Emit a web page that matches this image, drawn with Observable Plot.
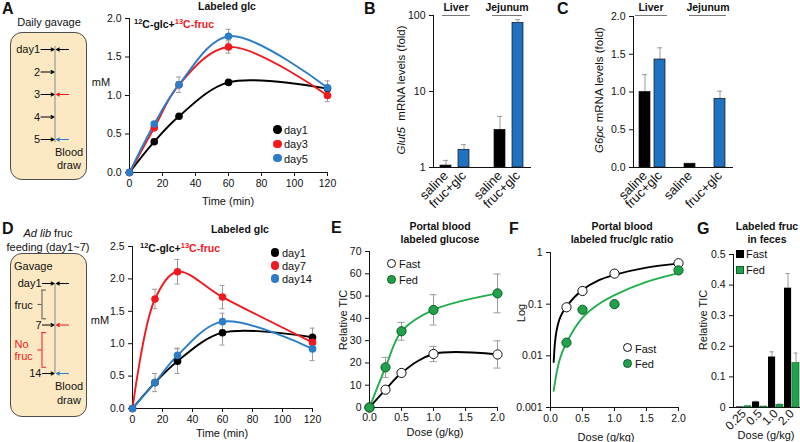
<!DOCTYPE html>
<html><head><meta charset="utf-8">
<script src="https://cdn.jsdelivr.net/npm/d3@7"></script>
<script src="https://cdn.jsdelivr.net/npm/@observablehq/plot@0.6"></script>
<style>
body{margin:0;background:#fff;}
#fig{position:relative;width:800px;height:442px;overflow:hidden;background:#fff;font-family:"Liberation Sans",Arial,sans-serif;color:#111;}
#fig svg{position:absolute;overflow:visible;}
.t{position:absolute;white-space:nowrap;line-height:1;}
.box{position:absolute;background:#fce9c3;border:1px solid #4d4d4d;border-radius:12px;box-sizing:border-box;}
</style></head><body><div id="fig"></div>
<script>
// ---------- DATA ----------
// Panel A: labeled glc, daily gavage
const timeMin = [0, 15, 30, 60, 120];
const timeTicks = [0, 20, 40, 60, 80, 100, 120];
const aDay1 = [0, 0.40, 0.73, 1.17, 1.09];
const aDay1Err = [0, 0.02, 0.02, 0.02, 0.03];
const aDay3 = [0, 0.58, 1.14, 1.63, 1.00];
const aDay3Err = [0, 0.03, 0.04, 0.08, 0.08];
const aDay5 = [0, 0.63, 1.14, 1.77, 1.10];
const aDay5Err = [0, 0.03, 0.10, 0.09, 0.09];
const aYTicks = [0, 0.5, 1.0, 1.5, 2.0];
const aSeries = ["day1", "day3", "day5"];
// Panel A schematic
const gavADays = [1, 2, 3, 4, 5];
const gavALabels = ["day1", "2", "3", "4", "5"];
const drawADays = [1, 3, 5];

// Panel B: Glut5 mRNA (log)
const bSlots = ["Ls", "Lf", "gap", "Js", "Jf"];
const bSlotLabels = ["saline", "fruc+glc", "", "saline", "fruc+glc"];
const glut5Slot = ["Ls", "Lf", "Js", "Jf"];
const glut5Treat = ["saline", "fruc+glc", "saline", "fruc+glc"];
const glut5Val = [1.06, 1.71, 3.13, 80];
const glut5Err = [0.18, 0.29, 1.57, 8];
const bYTicks = [1, 10, 100];

// Panel C: G6pc mRNA
const cSlots = ["Ls", "Lf", "gap1", "Js", "gap2", "Jf"];
const cSlotLabels = ["saline", "fruc+glc", "", "saline", "", "fruc+glc"];
const g6pcSlot = ["Ls", "Lf", "Js", "Jf"];
const g6pcTreat = ["saline", "fruc+glc", "saline", "fruc+glc"];
const g6pcVal = [1.0, 1.43, 0.05, 0.91];
const g6pcErr = [0.23, 0.155, 0, 0.10];
const cYTicks = [0, 0.5, 1.0, 1.5, 2.0];

// Panel D: ad lib feeding
const dDay1 = [0, 0.40, 0.73, 1.17, 1.10];
const dDay1Err = [0, 0.03, 0.19, 0.19, 0.14];
const dDay7 = [0, 1.69, 2.11, 1.72, 1.02];
const dDay7Err = [0, 0.15, 0.19, 0.18, 0.10];
const dDay14 = [0, 0.40, 0.82, 1.34, 0.92];
const dDay14Err = [0, 0.14, 0.11, 0.13, 0.18];
const dYTicks = [0, 0.5, 1.0, 1.5, 2.0, 2.5];
const dSeries = ["day1", "day7", "day14"];
const gavDDays = [1, 7, 14];
const gavDLabels = ["day1", "7", "14"];
const bracketFrom = [1.95, 8.1];
const bracketTo = [6.1, 13.1];
const bracketText = ["fruc", "No", "fruc"];
const bracketTextDay = [4.2, 9.8, 11.6];

// Panel E: portal blood labeled glucose
const doseE = [0, 0.25, 0.5, 1, 2];
const eFast = [0, 8, 15.5, 24, 23.8];
const eFastErr = [0, 1, 1, 3.4, 6.1];
const eFed = [0, 18, 34.2, 43.8, 51.2];
const eFedErr = [0, 4.5, 4.0, 6.8, 8.7];
const eYTicks = [0, 10, 20, 30, 40, 50, 60, 70];
const doseTicks = [0, 0.5, 1.0, 1.5, 2.0];

// Panel F: fruc/glc ratio (log)
const doseF = [0.25, 0.5, 1, 2];
const fFast = [0.087, 0.18, 0.39, 0.62];
const fFed = [0.018, 0.078, 0.10, 0.45];
const fitDoseFast = [0.05, 0.07, 0.1, 0.15, 0.25, 0.5, 0.75, 1, 1.5, 2];
const fitFast = [0.0076, 0.018, 0.033, 0.055, 0.09, 0.19, 0.29, 0.37, 0.51, 0.61];
const fitDoseFed = [0.05, 0.1, 0.15, 0.25, 0.5, 0.75, 1, 1.5, 2];
const fitFed = [0.0021, 0.005, 0.009, 0.018, 0.055, 0.10, 0.15, 0.27, 0.40];
const fYTicks = [0.001, 0.01, 0.1, 1];

// Panel G: labeled fruc in feces
const doseG = ["0.25", "0.5", "1.0", "2.0"];
const gFast = [0.002, 0.018, 0.165, 0.39];
const gFastErr = [0, 0.002, 0.017, 0.048];
const gFed = [0.004, 0.003, 0.009, 0.145];
const gFedErr = [0, 0, 0.002, 0.033];
const gYTicks = [0, 0.1, 0.2, 0.3, 0.4, 0.5];

// ---------- STYLE ----------
const RED = "#f2191e", BLUE = "#2b7dc8", BARBLUE = "#1f72c0";
const GREENLINE = "#1fae4b", GREEN = "#22a04a", GREENDARK = "#0e5f2b";
const GREY = "#9a9a9a";
const baseStyle = {fontFamily: "'Liberation Sans', Arial, sans-serif", fontSize: "10.5px", color: "#111", background: "transparent"};

const fig = document.getElementById("fig");
function place(svg, left, top) { svg.style.left = left + "px"; svg.style.top = top + "px"; fig.appendChild(svg); }
function xTickFont(svg, size) {
  svg.querySelectorAll('[aria-label^="x-axis"]').forEach(g => {
    g.setAttribute("font-size", size); g.style.fontSize = size + "px";
    g.querySelectorAll("text").forEach(t => { t.setAttribute("font-size", size); t.style.fontSize = size + "px"; });
  });
}
function T(html, x, y, o = {}) {
  const d = document.createElement("div");
  d.className = "t"; d.innerHTML = html;
  const ax = o.anchor === "start" ? "0" : o.anchor === "end" ? "-100%" : "-50%";
  d.style.left = x + "px"; d.style.top = y + "px";
  d.style.fontSize = (o.size || 11) + "px";
  if (o.bold) d.style.fontWeight = "bold";
  if (o.color) d.style.color = o.color;
  d.style.transform = `translate(${ax},-50%)` + (o.rotate ? ` rotate(${o.rotate}deg)` : "");
  fig.appendChild(d);
}
function Circ(x, y, dia, fill, stroke) {
  const d = document.createElement("div");
  Object.assign(d.style, {position: "absolute", left: (x - dia / 2) + "px", top: (y - dia / 2) + "px", width: dia + "px", height: dia + "px", borderRadius: "50%", background: fill, boxSizing: "border-box", border: stroke ? `1px solid ${stroke}` : "none"});
  fig.appendChild(d);
}
function Sq(x, y, s, fill, stroke) {
  const d = document.createElement("div");
  Object.assign(d.style, {position: "absolute", left: x + "px", top: y + "px", width: s + "px", height: s + "px", background: fill, boxSizing: "border-box", border: `1px solid ${stroke}`});
  fig.appendChild(d);
}
function HLine(x1, x2, y) {
  const d = document.createElement("div");
  Object.assign(d.style, {position: "absolute", left: x1 + "px", top: y + "px", width: (x2 - x1) + "px", height: "1px", background: "#777"});
  fig.appendChild(d);
}
function Box(x, y, w, h) {
  const d = document.createElement("div"); d.className = "box";
  Object.assign(d.style, {left: x + "px", top: y + "px", width: w + "px", height: h + "px"});
  fig.appendChild(d);
}
function tidy(name, xs, ys, es) { return xs.map((x, i) => ({s: name, x, y: ys[i], err: es ? es[i] : 0})); }
function errMarks(data, half, color = GREY) {
  const e = data.filter(d => d.err > 0);
  return [
    Plot.ruleX(e, {x: "x", y1: d => d.y - d.err, y2: d => d.y + d.err, stroke: color, strokeWidth: 1}),
    Plot.ruleY(e, {y: d => d.y + d.err, x1: "x", x2: "x", insetLeft: -half, insetRight: -half, stroke: color}),
    Plot.ruleY(e, {y: d => d.y - d.err, x1: "x", x2: "x", insetLeft: -half, insetRight: -half, stroke: color})
  ];
}
const formula = `<span style="font-size:7.5px;vertical-align:4px">12</span>C-glc+<span style="color:${RED}"><span style="font-size:7.5px;vertical-align:4px">13</span>C-fruc</span>`;

// ---------- PANEL A ----------
Box(10, 32, 77, 148);
const schemA = Plot.plot({
  width: 100, height: 215, margin: 0, style: baseStyle,
  x: {domain: [0, 100], range: [0, 100], axis: null},
  y: {domain: [1, 5], range: [49, 139], axis: null},
  color: {type: "identity"},
  marks: [
    Plot.ruleX([54.5], {y1: 1, y2: 5, stroke: "#999", strokeWidth: 1.2, insetTop: -3, insetBottom: -3}),
    Plot.text(gavADays, {x: 39.5, y: d => d, text: (d, i) => gavALabels[i], textAnchor: "end", fontSize: 11}),
    Plot.arrow(gavADays, {x1: 40.5, x2: 53.5, y1: d => d, y2: d => d, stroke: "#000", strokeWidth: 1.1, headLength: 4.5, headAngle: 55}),
    Plot.arrow(drawADays, {x1: 68, x2: 56, y1: d => d, y2: d => d, stroke: (d, i) => ["#000", RED, BLUE][i], strokeWidth: 1.1, headLength: 4.5, headAngle: 55})
  ]
});
place(schemA, 0, 0);

const aData = [...tidy("day1", timeMin, aDay1, aDay1Err), ...tidy("day3", timeMin, aDay3, aDay3Err), ...tidy("day5", timeMin, aDay5, aDay5Err)];
const chartA = Plot.plot({
  width: 370, height: 215, marginLeft: 129, marginRight: 43, marginTop: 18, marginBottom: 43, style: baseStyle,
  x: {domain: [0, 120], ticks: timeTicks, tickSize: 4, tickPadding: 3, line: true, label: null},
  y: {domain: [0, 2], ticks: aYTicks, tickFormat: d3.format(".1f"), tickSize: 4, tickPadding: 4, line: true, label: null},
  color: {domain: aSeries, range: ["#000", RED, BLUE]},
  marks: [
    Plot.line(aData, {x: "x", y: "y", stroke: "s", curve: "catmull-rom", strokeWidth: 1.9}),
    ...errMarks(aData, 2.5),
    Plot.dot(aData, {x: "x", y: "y", fill: "s", r: 3.8})
  ]
});
place(chartA, 0, 0);

// ---------- PANEL B ----------
const bData = glut5Slot.map((s, i) => ({slot: s, treat: glut5Treat[i], v: glut5Val[i], e: glut5Err[i]}));
const chartB = Plot.plot({
  width: 200, height: 215, marginLeft: 73, marginRight: 30, marginTop: 15, marginBottom: 48, style: baseStyle,
  x: {domain: bSlots, padding: 0.38, tickSize: 0, tickPadding: 6, tickRotate: -45, tickFormat: d => bSlotLabels[bSlots.indexOf(d)], line: true, label: null},
  y: {type: "log", domain: [1, 100], ticks: bYTicks, tickFormat: d => String(d), tickSize: 4, tickPadding: 4, line: true, label: null},
  color: {domain: ["saline", "fruc+glc"], range: ["#000", BARBLUE]},
  marks: [
    Plot.ruleX(bData, {x: "slot", y1: "v", y2: d => d.v + d.e, stroke: GREY}),
    Plot.tickY(bData, {x: "slot", y: d => d.v + d.e, stroke: GREY, insetLeft: 3, insetRight: 3}),
    Plot.barY(bData, {x: "slot", y1: 1, y2: "v", fill: "treat", stroke: "#111", strokeWidth: 0.7})
  ]
});
xTickFont(chartB, 13);
place(chartB, 360, 0);

// ---------- PANEL C ----------
const cData = g6pcSlot.map((s, i) => ({slot: s, treat: g6pcTreat[i], v: g6pcVal[i], e: g6pcErr[i]}));
const chartC = Plot.plot({
  width: 200, height: 215, marginLeft: 73, marginRight: 28, marginTop: 16, marginBottom: 48, style: baseStyle,
  x: {domain: cSlots, padding: 0.25, tickSize: 0, tickPadding: 6, tickRotate: -45, tickFormat: d => cSlotLabels[cSlots.indexOf(d)], line: true, label: null},
  y: {domain: [0, 2], ticks: cYTicks, tickFormat: d3.format(".1f"), tickSize: 4, tickPadding: 4, line: true, label: null},
  color: {domain: ["saline", "fruc+glc"], range: ["#000", BARBLUE]},
  marks: [
    Plot.ruleX(cData.filter(d => d.e > 0), {x: "slot", y1: "v", y2: d => d.v + d.e, stroke: GREY}),
    Plot.tickY(cData.filter(d => d.e > 0), {x: "slot", y: d => d.v + d.e, stroke: GREY, insetLeft: 3, insetRight: 3}),
    Plot.barY(cData, {x: "slot", y1: 0, y2: "v", fill: "treat", stroke: "#111", strokeWidth: 0.7})
  ]
});
xTickFont(chartC, 13);
place(chartC, 560, 0);

// ---------- PANEL D ----------
Box(10, 253, 77, 164);
const gavD = gavDDays.map((n, i) => ({n, label: gavDLabels[i], color: ["#000", RED, BLUE][i]}));
const brackets = bracketFrom.map((f, i) => ({from: f, to: bracketTo[i], color: ["#555", RED][i]}));
const bTexts = bracketText.map((t, i) => ({t, n: bracketTextDay[i], color: i === 0 ? "#111" : RED}));
const schemD = Plot.plot({
  width: 100, height: 222, margin: 0, style: baseStyle,
  x: {domain: [0, 100], range: [0, 100], axis: null},
  y: {domain: [1, 14], range: [63, 153], axis: null},
  color: {type: "identity"},
  marks: [
    Plot.ruleX([54.5], {y1: 1, y2: 14, stroke: "#999", strokeWidth: 1.2}),
    Plot.text(gavD, {x: 41, y: "n", text: "label", textAnchor: "end", fontSize: 11}),
    Plot.arrow(gavD, {x1: 42, x2: 53.5, y1: "n", y2: "n", stroke: "#000", strokeWidth: 1.1, headLength: 4.5, headAngle: 55}),
    Plot.arrow(gavD, {x1: 68, x2: 56, y1: "n", y2: "n", stroke: "color", strokeWidth: 1.1, headLength: 4.5, headAngle: 55}),
    Plot.ruleX(brackets, {x: 41.5, y1: "from", y2: "to", stroke: "color"}),
    Plot.ruleY(brackets, {y: "from", x1: 41.5, x2: 46, stroke: "color"}),
    Plot.ruleY(brackets, {y: "to", x1: 41.5, x2: 46, stroke: "color"}),
    Plot.ruleY(brackets, {y: d => (d.from + d.to) / 2, x1: 37.5, x2: 41.5, stroke: "color"}),
    Plot.text(bTexts, {x: 14, y: "n", text: "t", fill: "color", textAnchor: "start", fontSize: 11})
  ]
});
place(schemD, 0, 220);

const dData = [...tidy("day1", timeMin, dDay1, dDay1Err), ...tidy("day7", timeMin, dDay7, dDay7Err), ...tidy("day14", timeMin, dDay14, dDay14Err)];
const chartD = Plot.plot({
  width: 370, height: 222, marginLeft: 132, marginRight: 58, marginTop: 26, marginBottom: 34, style: baseStyle,
  x: {domain: [0, 120], ticks: timeTicks, tickSize: 4, tickPadding: 3, line: true, label: null},
  y: {domain: [0, 2.5], ticks: dYTicks, tickFormat: d3.format(".1f"), tickSize: 4, tickPadding: 4, line: true, label: null},
  color: {domain: dSeries, range: ["#000", RED, BLUE]},
  marks: [
    Plot.line(dData, {x: "x", y: "y", stroke: "s", curve: "catmull-rom", strokeWidth: 1.9}),
    ...errMarks(dData, 2.5),
    Plot.dot(dData, {x: "x", y: "y", fill: "s", r: 3.8})
  ]
});
place(chartD, 0, 220);

// ---------- PANEL E ----------
const eData = [...tidy("Fast", doseE, eFast, eFastErr), ...tidy("Fed", doseE, eFed, eFedErr)];
const chartE = Plot.plot({
  width: 210, height: 222, marginLeft: 69, marginRight: 13, marginTop: 31, marginBottom: 35, style: baseStyle,
  x: {domain: [0, 2], ticks: doseTicks, tickFormat: d3.format(".1f"), tickSize: 4, tickPadding: 2, line: true, label: null},
  y: {domain: [0, 70], ticks: eYTicks, tickSize: 4, tickPadding: 4, line: true, label: null},
  marks: [
    Plot.line(eData, {x: "x", y: "y", z: "s", stroke: d => d.s === "Fed" ? GREENLINE : "#000", curve: "catmull-rom", strokeWidth: 1.9}),
    ...errMarks(eData, 3.5),
    Plot.dot(eData, {x: "x", y: "y", fill: d => d.s === "Fed" ? GREEN : "#fff", stroke: d => d.s === "Fed" ? GREENDARK : "#111", r: 4.6, strokeWidth: 1})
  ]
});
place(chartE, 300, 220);

// ---------- PANEL F ----------
const fPts = [...tidy("Fast", doseF, fFast), ...tidy("Fed", doseF, fFed)];
const fFit = [...tidy("Fast", fitDoseFast, fitFast), ...tidy("Fed", fitDoseFed, fitFed)];
const chartF = Plot.plot({
  width: 200, height: 222, marginLeft: 50, marginRight: 22, marginTop: 32, marginBottom: 35, style: baseStyle,
  x: {domain: [0, 2], ticks: doseTicks, tickFormat: d3.format(".1f"), tickSize: 4, tickPadding: 3, line: true, label: null},
  y: {type: "log", domain: [0.001, 1], ticks: fYTicks, tickFormat: d => String(d), tickSize: 4, tickPadding: 4, line: true, label: null},
  marks: [
    Plot.line(fFit, {x: "x", y: "y", z: "s", stroke: d => d.s === "Fed" ? GREENLINE : "#000", curve: "catmull-rom", strokeWidth: 1.9}),
    Plot.dot(fPts, {x: "x", y: "y", fill: d => d.s === "Fed" ? GREEN : "#fff", stroke: d => d.s === "Fed" ? GREENDARK : "#111", r: 4.6, strokeWidth: 1})
  ]
});
place(chartF, 500, 220);

// ---------- PANEL G ----------
const gData = doseG.map((d, i) => ({dose: d, fast: gFast[i], fastErr: gFastErr[i], fed: gFed[i], fedErr: gFedErr[i]}));
const chartG = Plot.plot({
  width: 112, height: 222, marginLeft: 43, marginRight: 0, marginTop: 34, marginBottom: 35, style: baseStyle,
  x: {domain: doseG, padding: 0.075, tickSize: 0, tickPadding: 4, tickRotate: -45, line: true, label: null},
  y: {domain: [0, 0.5], ticks: gYTicks, tickFormat: d => d === 0 ? "0" : d.toFixed(1), tickSize: 4, tickPadding: 4, line: true, label: null},
  marks: [
    Plot.ruleX(gData.filter(d => d.fastErr > 0), {x: "dose", y1: "fast", y2: d => d.fast + d.fastErr, dx: -4, stroke: GREY}),
    Plot.ruleX(gData.filter(d => d.fedErr > 0), {x: "dose", y1: "fed", y2: d => d.fed + d.fedErr, dx: 4, stroke: GREY}),
    Plot.tickY(gData.filter(d => d.fastErr > 0), {x: "dose", y: d => d.fast + d.fastErr, insetLeft: 1.5, insetRight: 9.5, stroke: GREY}),
    Plot.tickY(gData.filter(d => d.fedErr > 0), {x: "dose", y: d => d.fed + d.fedErr, insetLeft: 9.5, insetRight: 1.5, stroke: GREY}),
    Plot.barY(gData, {x: "dose", y: "fast", insetRight: 7.9, fill: "#000"}),
    Plot.barY(gData, {x: "dose", y: "fed", insetLeft: 7.9, fill: GREEN, stroke: GREENDARK, strokeWidth: 0.6})
  ]
});
xTickFont(chartG, 12);
place(chartG, 690, 220);

// ---------- TEXT OVERLAYS ----------
// A
T("A", 2, 9, {bold: true, size: 16, anchor: "start"});
T("Daily gavage", 49, 22);
T("Blood", 55, 152, {anchor: "start"});
T("draw", 57, 165, {anchor: "start"});
T("Labeled glc", 227, 6, {bold: true, size: 10.5});
T(formula, 134, 24, {bold: true, size: 10.5, anchor: "start"});
T("mM", 101, 82);
T("Time (min)", 228, 201);
["day1", "day3", "day5"].forEach((s, i) => { Circ(277.5, 129.5 + i * 14.3, 8.5, ["#000", RED, BLUE][i]); T(s, 284, 130 + i * 14.3, {anchor: "start"}); });
// B
T("B", 364, 9, {bold: true, size: 16, anchor: "start"});
T("Liver", 456, 7, {bold: true, size: 10.5}); HLine(442, 470, 15);
T("Jejunum", 507, 7, {bold: true, size: 10.5}); HLine(492, 522, 15);
T("<i>Glut5</i>&nbsp; mRNA levels (fold)", 402, 90, {rotate: -90, size: 11.5});
// C
T("C", 557, 9, {bold: true, size: 16, anchor: "start"});
T("Liver", 651, 7, {bold: true, size: 10.5}); HLine(635, 667, 15);
T("Jejunum", 708, 7, {bold: true, size: 10.5}); HLine(689, 726, 15);
T("<i>G6pc</i> mRNA levels (fold)", 600, 90, {rotate: -90, size: 11.5});
// D
T("D", 2, 229, {bold: true, size: 16, anchor: "start"});
T("<i>Ad lib</i> fruc", 48, 233);
T("feeding (day1~7)", 48, 247);
T("Gavage", 14, 266, {anchor: "start"});
T("Blood", 55, 386, {anchor: "start"});
T("draw", 57, 400, {anchor: "start"});
T("Labeled glc", 240, 229, {bold: true, size: 10.5});
T(formula, 140, 248, {bold: true, size: 10.5, anchor: "start"});
T("mM", 100, 320);
T("Time (min)", 222, 433);
["day1", "day7", "day14"].forEach((s, i) => { Circ(275, 252.3 + i * 13, 8.5, ["#000", RED, BLUE][i]); T(s, 282, 253 + i * 13, {anchor: "start"}); });
// E
T("E", 331, 228, {bold: true, size: 16, anchor: "start"});
T("Portal blood", 440, 226, {bold: true, size: 10.5});
T("labeled glucose", 440, 239, {bold: true, size: 10.5});
T("Relative TIC", 343, 320, {rotate: -90});
T("Dose (g/kg)", 435, 432);
Circ(391, 263.5, 9, "#fff", "#111"); T("Fast", 399, 264, {anchor: "start"});
Circ(391, 279.3, 9, GREEN, GREENDARK); T("Fed", 399, 280, {anchor: "start"});
// F
T("F", 509, 229, {bold: true, size: 16, anchor: "start"});
T("Portal blood", 622, 226, {bold: true, size: 10.5});
T("labeled fruc/glc ratio", 622, 239, {bold: true, size: 10.5});
T("Log", 521, 313, {rotate: -90});
T("Dose (g/kg)", 606, 437);
Circ(627.5, 347.8, 9, "#fff", "#111"); T("Fast", 635, 348.5, {anchor: "start"});
Circ(627.5, 363.3, 9, GREEN, GREENDARK); T("Fed", 635, 364, {anchor: "start"});
// G
T("G", 697, 229, {bold: true, size: 16, anchor: "start"});
T("Labeled fruc", 767, 226, {bold: true, size: 10.5});
T("in feces", 767, 239, {bold: true, size: 10.5});
T("Relative TIC", 703, 320, {rotate: -90});
T("Dose (g/kg)", 766, 435);
Sq(735.5, 250, 8, "#000", "#000"); T("Fast", 746, 254, {anchor: "start"});
Sq(735.5, 266, 8, GREEN, GREENDARK); T("Fed", 746, 270, {anchor: "start"});
</script>
</body></html>
